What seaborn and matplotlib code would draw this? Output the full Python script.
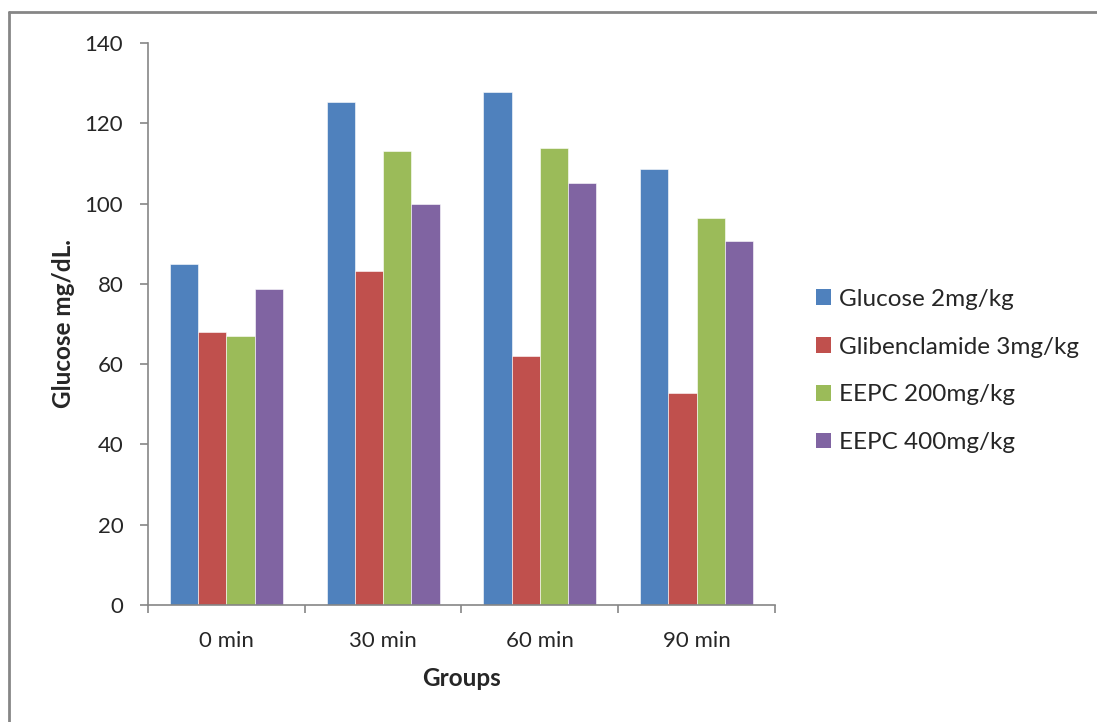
import numpy as np
import pandas as pd
import matplotlib
matplotlib.use("Agg")
import matplotlib.pyplot as plt
from matplotlib.lines import Line2D
from matplotlib.patches import Patch
import seaborn as sns

# --- dados ---
grupos = ["0 min", "30 min", "60 min", "90 min"]
series = ["Glucose 2mg/kg", "Glibenclamide 3mg/kg", "EEPC 200mg/kg", "EEPC 400mg/kg"]
glucose = [85.0, 125.2, 127.9, 108.6]
glibenclamide = [68.1, 83.1, 62.1, 52.7]
eepc200 = [67.1, 113.1, 113.8, 96.4]
eepc400 = [78.8, 99.9, 105.1, 90.7]
cores = ["#4F81BD", "#C0504D", "#9BBB59", "#8064A2"]

valores = [glucose, glibenclamide, eepc200, eepc400]
df = pd.DataFrame({
    "grupo": np.repeat([grupos], len(series), axis=0).ravel(),
    "serie": np.repeat(series, len(grupos)),
    "valor": np.concatenate(valores),
})

sns.set_style("white")
plt.rcParams["font.family"] = ["Lato", "DejaVu Sans"]
cinza = "#868686"

fig = plt.figure(figsize=(10.97, 7.22), dpi=100)
ax = fig.add_axes([148 / 1097, 117 / 722, 627 / 1097, 562 / 722])

sns.barplot(data=df, x="grupo", y="valor", hue="serie", order=grupos,
            hue_order=series, palette=cores, width=0.72, gap=0,
            saturation=1, ax=ax, legend=False, edgecolor="white", linewidth=0.4)

ax.set_xlim(-0.5, 3.5)
ax.set_ylim(0, 140)
ax.set_yticks(range(0, 141, 20))
ax.tick_params(axis="y", labelsize=16, length=5.8, width=1.2, color=cinza, pad=12, left=True)
ax.set_xticks(np.arange(-0.5, 4, 1), minor=True)
ax.tick_params(axis="x", which="major", labelsize=16, length=0, pad=19)
ax.tick_params(axis="x", which="minor", length=5.8, width=1.2, color=cinza, bottom=True)

for lado in ["top", "right"]:
    ax.spines[lado].set_visible(False)
for lado in ["left", "bottom"]:
    ax.spines[lado].set_color(cinza)
    ax.spines[lado].set_linewidth(1.2)

ax.set_xlabel("Groups", fontsize=17.5, fontweight="bold", labelpad=11)
ax.set_ylabel("Glucose mg/dL.", fontsize=17.5, fontweight="bold", labelpad=7)

# legenda a direita
handles = [Patch(facecolor=c, edgecolor="none") for c in cores]
fig.legend(handles, series, loc="center left", bbox_to_anchor=(794 / 1097, 1 - 371 / 722),
           frameon=False, fontsize=17.5, handlelength=0.62, handleheight=0.62,
           handletextpad=0.35, labelspacing=1.1)

# moldura externa
fig.add_artist(Line2D([9 / 1097, 9 / 1097], [0, 1 - 12 / 722], color=cinza, lw=2,
                      transform=fig.transFigure))
fig.add_artist(Line2D([9 / 1097, 1], [1 - 12 / 722, 1 - 12 / 722], color=cinza, lw=2,
                      transform=fig.transFigure))

fig.savefig("out.png", dpi=100)
